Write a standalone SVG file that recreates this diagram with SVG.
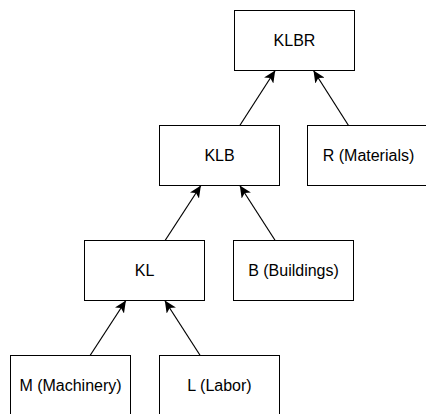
<svg xmlns="http://www.w3.org/2000/svg" width="426" height="414" viewBox="0 0 426 414">
<style>
.box{fill:#fff;stroke:#000;stroke-width:1}
.lbl{font-family:"Liberation Sans",Arial,sans-serif;font-size:16px;fill:#000;text-anchor:middle}
.edge{stroke:#000;stroke-width:1.2;fill:none;marker-end:url(#arr)}
</style>
<defs>
<marker id="arr" markerUnits="userSpaceOnUse" markerWidth="12" markerHeight="11" viewBox="0 0 12 11" refX="12" refY="5.5" orient="auto">
<path d="M0,0 L12,5.5 L0,11 L3,5.5 Z" fill="#000"/>
</marker>
</defs>
<rect width="426" height="414" fill="#fff"/>
<g id="edges">
<line class="edge" x1="90.1" y1="355.5" x2="125.9" y2="300.5"/>
<line class="edge" x1="200.2" y1="355.5" x2="164.8" y2="300.5"/>
<line class="edge" x1="165.1" y1="240.5" x2="200.9" y2="185.5"/>
<line class="edge" x1="275.2" y1="240.5" x2="239.8" y2="185.5"/>
<line class="edge" x1="239.8" y1="125.5" x2="275.2" y2="70.5"/>
<line class="edge" x1="348.5" y1="125.5" x2="313.5" y2="70.5"/>
</g>
<g id="KLBR"><rect class="box" x="234.5" y="10.5" width="120" height="60"/><text class="lbl" x="294.5" y="46.2">KLBR</text></g>
<g id="KLB"><rect class="box" x="159.5" y="125.5" width="120" height="60"/><text class="lbl" x="219.5" y="161.2">KLB</text></g>
<g id="R"><rect class="box" x="307.5" y="125.5" width="120" height="60"/><text class="lbl" x="368.5" y="161.2">R (Materials)</text></g>
<g id="KL"><rect class="box" x="84.5" y="240.5" width="120" height="60"/><text class="lbl" x="144.5" y="276.2">KL</text></g>
<g id="B"><rect class="box" x="233.5" y="240.5" width="120" height="60"/><text class="lbl" x="293.5" y="276.2">B (Buildings)</text></g>
<g id="M"><rect class="box" x="10.5" y="355.5" width="120" height="60"/><text class="lbl" x="70.5" y="391.2">M (Machinery)</text></g>
<g id="L"><rect class="box" x="159.5" y="355.5" width="120" height="60"/><text class="lbl" x="219.5" y="391.2">L (Labor)</text></g>
</svg>
